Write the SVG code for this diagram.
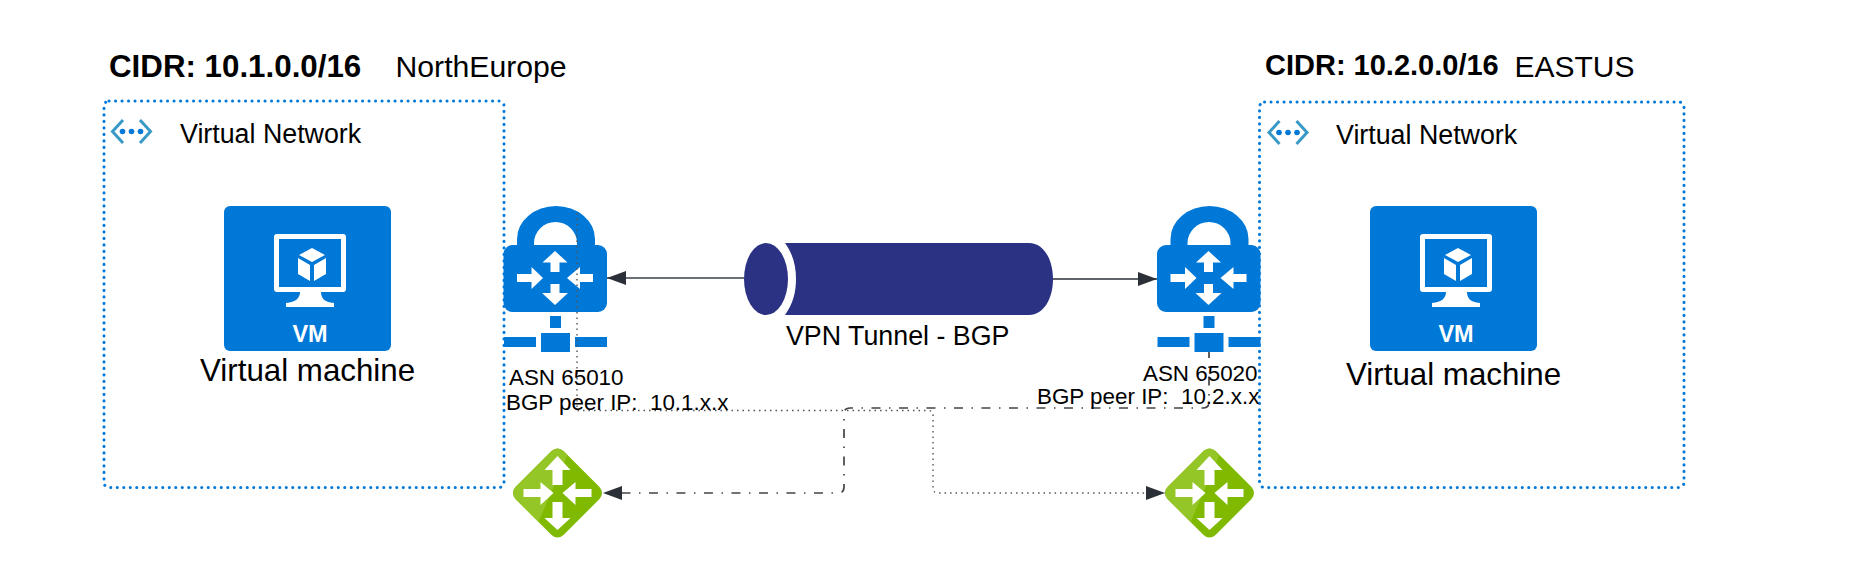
<svg xmlns="http://www.w3.org/2000/svg" width="1852" height="585" viewBox="0 0 1852 585">
<style>
text{font-family:"Liberation Sans",Arial,sans-serif;fill:#000;white-space:pre}
.vnet{fill:none;stroke:#0078D7;stroke-width:3;stroke-dasharray:0.1 6.4;stroke-linecap:round}
.blue{fill:#0078D7}
.w{fill:#fff}
.cidr{font-weight:bold}
.con{fill:none;stroke-width:1.4}
.vl{font-size:26.8px}
</style>
<defs>
<marker id="ah" markerUnits="userSpaceOnUse" markerWidth="20" markerHeight="14" refX="19" refY="7" orient="auto-start-reverse"><path d="M0 0L19 7L0 14Z" fill="#2B3038"/></marker>
<symbol id="vmIcon" overflow="visible">
<rect x="0" y="0" width="167" height="145" rx="6" class="blue"/>
<path fill-rule="evenodd" class="w" d="M53 28H119a3 3 0 0 1 3 3V83a3 3 0 0 1-3 3H53a3 3 0 0 1-3-3V31a3 3 0 0 1 3-3ZM55 33V81H117V33Z"/>
<path class="w" d="M76 86H97C97 92 100 96 110 97V101H62V97C72 96 76 92 76 86Z"/>
<path class="w" d="M88 42L101 49L88 56L75 49Z"/>
<path class="w" d="M74 52L86 59V75L74 68Z"/>
<path class="w" d="M102 52L90 59V75L102 68Z"/>
<text x="86" y="136" text-anchor="middle" font-size="23.500" font-weight="bold" style="fill:#fff">VM</text>
</symbol>
<symbol id="vpnGw" overflow="visible">
<path class="blue" fill-rule="evenodd" d="M14 41V33A39 33 0 0 1 92 33V41ZM31 39H74V37A21.500 21 0 0 0 31 37Z"/>
<rect x="0.500" y="39" width="103.500" height="67" rx="9" class="blue"/>
<g class="w">
<path d="M52 45L64.500 56.500H56.500V66H47.500V56.500H39.500Z"/>
<path d="M52 99L39 87H47.500V78H56.500V87H65Z"/>
<path d="M14 68H28.500V61L40 72L28.500 83V76H14Z"/>
<path d="M90 68H77V61L64 72L77 83V76H90Z"/>
</g>
<rect x="47" y="110" width="11" height="12" class="blue"/>
<rect x="38" y="127" width="29" height="19" class="blue"/>
<rect x="1" y="131" width="32" height="10" class="blue"/>
<rect x="72" y="131" width="32" height="10" class="blue"/>
</symbol>
<clipPath id="dia"><path d="M-6 -42Q0 -47 6 -42L42 -6Q47 0 42 6L6 42Q0 47 -6 42L-42 6Q-47 0 -42 -6Z"/></clipPath>
<symbol id="lngw" overflow="visible">
<path d="M-6 -42Q0 -47 6 -42L42 -6Q47 0 42 6L6 42Q0 47 -6 42L-42 6Q-47 0 -42 -6Z" fill="#7FBA00"/>
<path clip-path="url(#dia)" d="M-50 -50H15L-19 29L-50 50Z" fill="#94C628"/>
<g class="w">
<path d="M0 -37L13 -23H5V-8H-5V-23H-13Z"/>
<path d="M0 37L-13 25H-5V9H5V25H13Z"/>
<path d="M-34 -4H-17V-11L-4 0L-17 12V4H-34Z"/>
<path d="M34 -4H18V-11L5 0L18 12V4H34Z"/>
</g>
</symbol>
<symbol id="vnetIcon" overflow="visible">
<path d="M13.500 1L3 12.500L13.500 24M30.500 1L41 12.500L30.500 24" fill="none" stroke="#3999C6" stroke-width="3"/>
<circle cx="13" cy="12.500" r="2.800" class="blue"/><circle cx="22" cy="12.500" r="2.800" class="blue"/><circle cx="31" cy="12.500" r="2.800" class="blue"/>
</symbol>
</defs>
<rect width="1852" height="585" fill="#fff"/>
<g id="vnet-left">
<rect class="vnet" x="104" y="101" width="400" height="386.500" rx="5"/>
<use href="#vnetIcon" x="109.500" y="119"/>
<text class="vl" x="180" y="143">Virtual Network</text>
</g>
<g id="vnet-right">
<rect class="vnet" x="1259.500" y="102" width="424.500" height="385.500" rx="5"/>
<use href="#vnetIcon" x="1266" y="120"/>
<text class="vl" x="1336" y="144">Virtual Network</text>
</g>
<g id="cidr-left"><text class="cidr" x="109" y="77" font-size="31.300">CIDR: 10.1.0.0/16</text></g>
<g id="region-left"><text x="395.500" y="77" font-size="30.200">NorthEurope</text></g>
<g id="cidr-right"><text class="cidr" x="1265" y="75" font-size="29">CIDR: 10.2.0.0/16</text></g>
<g id="region-right"><text x="1514.500" y="77" font-size="30">EASTUS</text></g>
<g id="vm-left">
<use href="#vmIcon" x="224" y="206"/>
<text x="200" y="381" font-size="31.300">Virtual machine</text>
</g>
<g id="vm-right">
<use href="#vmIcon" x="1370" y="206"/>
<text x="1346" y="385" font-size="31.300">Virtual machine</text>
</g>
<g id="vpn-gw-left"><use href="#vpnGw" x="503" y="206"/></g>
<g id="vpn-gw-right"><use href="#vpnGw" x="1156.500" y="206"/></g>
<g id="tunnel">
<path d="M785 243H1029C1044 243 1053 260 1053 279C1053 298 1044 315 1029 315H785C793 304 796 292 796 279C796 266 793 254 785 243Z" fill="#2B3284"/>
<ellipse cx="766" cy="279" rx="22" ry="36" fill="#2B3284"/>
<text x="786" y="345" font-size="26.800">VPN Tunnel - BGP</text>
</g>
<g id="lng-left"><use href="#lngw" x="557.500" y="493"/></g>
<g id="lng-right"><use href="#lngw" x="1209.500" y="493"/></g>
<g id="connectors">
<path class="con" d="M744 278H607" stroke="#3A4048" stroke-width="2" marker-end="url(#ah)"/>
<path class="con" d="M1053 279H1157" stroke="#2B3038" stroke-width="2" marker-end="url(#ah)"/>
<path class="con" d="M577 213V410.500H928Q933 410.500 933 415V488Q933 493 938 493H1165" stroke="#555" stroke-dasharray="1.500 4" marker-end="url(#ah)"/>
<path class="con" d="M1209 352V402Q1209 408 1203 408H850Q844 408 844 414V487Q844 493 838 493H603" stroke="#444" style="stroke-width:1.7" stroke-dasharray="9 8.500 1.500 8.500" stroke-dashoffset="3" marker-end="url(#ah)"/>
</g>
<g id="label-left">
<text x="509" y="385" font-size="22.400">ASN 65010</text>
<text x="506" y="410" font-size="22.400">BGP peer IP:  10.1.x.x</text>
</g>
<g id="label-right">
<text x="1143" y="381" font-size="22.400">ASN 65020</text>
<text x="1037" y="404" font-size="22.400">BGP peer IP:  10.2.x.x</text>
</g>
</svg>
